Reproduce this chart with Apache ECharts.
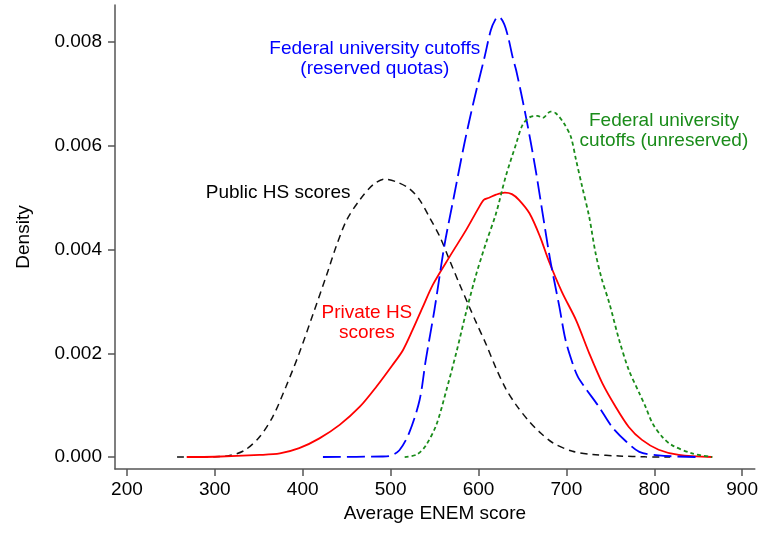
<!DOCTYPE html>
<html>
<head>
<meta charset="utf-8">
<script src="https://cdn.jsdelivr.net/npm/echarts@6/dist/echarts.min.js"></script>
<style>
  html, body { margin: 0; padding: 0; background: #fff; }
  #chart { width: 761px; height: 535px; }
</style>
</head>
<body>
<div id="chart"></div>
<script>
// tick labels
const xTicks = [200, 300, 400, 500, 600, 700, 800, 900];
const yTicks = [0, 0.002, 0.004, 0.006, 0.008];

// Public HS scores (black, dashed)
const publicX = [257, 300, 317, 334, 351, 366, 381, 396, 412, 427, 438, 450, 465, 480, 493, 506, 521, 533, 544, 556, 567, 578, 590, 597, 609, 620, 631, 643, 658, 669, 684, 707, 730, 760, 790, 818];
const publicY = [0, 0.000005, 0.00003, 0.00013, 0.00039, 0.00078, 0.00136, 0.00200, 0.00277, 0.00350, 0.00406, 0.00457, 0.00496, 0.00525, 0.00536, 0.00531, 0.00518, 0.00496, 0.00463, 0.00425, 0.00380, 0.00335, 0.00288, 0.00261, 0.00216, 0.00171, 0.00132, 0.00100, 0.00068, 0.00049, 0.00028, 0.00011, 0.00005, 0.00002, 0.000003, 0];

// Private HS scores (red, solid)
const privateX = [268, 300, 351, 374, 396, 419, 442, 465, 484, 502, 514, 525, 536, 548, 567, 586, 600, 606, 612, 620, 630, 638, 646, 658, 670, 680, 695, 711, 726, 741, 756, 771, 786, 805, 828, 866];
const privateY = [0, 0.000005, 0.00004, 0.00007, 0.00017, 0.00036, 0.00062, 0.00097, 0.00136, 0.00177, 0.00206, 0.00245, 0.00287, 0.00332, 0.00386, 0.00438, 0.00480, 0.00496, 0.00500, 0.00506, 0.00510, 0.00507, 0.00496, 0.00470, 0.00425, 0.00378, 0.00318, 0.00264, 0.00200, 0.00142, 0.00097, 0.00058, 0.00033, 0.00014, 0.00004, 0];

// Federal university cutoffs, reserved quotas (blue, long dash)
const reservedX = [423, 490, 499, 510, 521, 533, 540, 550, 561, 572, 584, 595, 607, 614, 619, 623, 629, 634, 639, 643, 654, 665, 681, 692, 699, 707, 713, 722, 737, 752, 768, 783, 805, 847];
const reservedY = [0, 0.00001, 0.00002, 0.00013, 0.00046, 0.00110, 0.00187, 0.00285, 0.00406, 0.00502, 0.00605, 0.00689, 0.00772, 0.00823, 0.00843, 0.00849, 0.00836, 0.00808, 0.00770, 0.00745, 0.00656, 0.00554, 0.00386, 0.00290, 0.00226, 0.00181, 0.00155, 0.00132, 0.00097, 0.00058, 0.00030, 0.00010, 0.00003, 0];

// Federal university cutoffs, unreserved (green, dotted)
const unreservedX = [516, 530, 540, 552, 563, 575, 586, 597, 608, 620, 631, 643, 650, 658, 667, 673, 682, 688, 697, 705, 711, 718, 726, 733, 740, 749, 760, 771, 783, 790, 798, 809, 820, 843, 866];
const unreservedY = [0, 0.00005, 0.00022, 0.00062, 0.00126, 0.00203, 0.00280, 0.00350, 0.00410, 0.00470, 0.00541, 0.00605, 0.00640, 0.00655, 0.00658, 0.00654, 0.00666, 0.00663, 0.00644, 0.00618, 0.00573, 0.00521, 0.00463, 0.00395, 0.00345, 0.00296, 0.00226, 0.00168, 0.00123, 0.00097, 0.00065, 0.00039, 0.00023, 0.00007, 0];

// annotation texts, anchored in data coordinates
const notes = [
    { text: 'Federal university cutoffs\n(reserved quotas)', x: 482, y: 0.00768, color: '#0000ff' },
    { text: 'Federal university\ncutoffs (unreserved)', x: 811, y: 0.00629, color: '#1a8c1a' },
    { text: 'Public HS scores', x: 372, y: 0.00509, color: '#000000' },
    { text: 'Private HS\nscores', x: 473, y: 0.00258, color: '#ff0000' }
];

function pairs(xs, ys) {
    return xs.map((x, i) => [x, ys[i]]);
}

const font = 'Liberation Sans, Arial, sans-serif';
const axisColor = '#555555';

const myChart = echarts.init(document.getElementById('chart'));

function makeLine(name, xs, ys, color, type, width) {
    return {
        name: name,
        type: 'line',
        data: pairs(xs, ys),
        showSymbol: false,
        smooth: 0.3,
        animation: false,
        lineStyle: { color: color, width: width, type: type }
    };
}

const option = {
    animation: false,
    grid: { left: 115, right: 5, top: 5, bottom: 66 },
    xAxis: {
        type: 'value',
        min: 186.4,
        max: 914.4,
        name: 'Average ENEM score',
        nameLocation: 'middle',
        nameGap: 33,
        nameTextStyle: { fontFamily: font, fontSize: 19, color: '#000' },
        splitLine: { show: false },
        axisLine: { show: true, onZero: false, lineStyle: { color: axisColor, width: 1.5 } },
        axisTick: { show: true, length: 7, lineStyle: { color: axisColor, width: 1.5 }, customValues: xTicks },
        axisLabel: { fontFamily: font, fontSize: 19, color: '#000', margin: 11, customValues: xTicks }
    },
    yAxis: {
        type: 'value',
        min: -0.000231,
        max: 0.008717,
        name: 'Density',
        nameLocation: 'middle',
        nameGap: 82,
        nameTextStyle: { fontFamily: font, fontSize: 19, color: '#000' },
        splitLine: { show: false },
        axisLine: { show: true, onZero: false, lineStyle: { color: axisColor, width: 1.5 } },
        axisTick: { show: true, length: 7, lineStyle: { color: axisColor, width: 1.5 }, customValues: yTicks },
        axisLabel: {
            fontFamily: font, fontSize: 19, color: '#000', margin: 13,
            customValues: yTicks,
            formatter: v => v.toFixed(3)
        }
    },
    series: [
        makeLine('Public HS scores', publicX, publicY, '#111111', [7, 5], 1.5),
        makeLine('Private HS scores', privateX, privateY, '#ff0000', 'solid', 1.8),
        makeLine('Reserved quotas', reservedX, reservedY, '#0000ff', [18, 6], 1.8),
        makeLine('Unreserved', unreservedX, unreservedY, '#1a8c1a', [4, 3], 1.8)
    ]
};

myChart.setOption(option);

function placeNotes() {
    const elements = notes.map(n => {
        const p = myChart.convertToPixel({ gridIndex: 0 }, [n.x, n.y]);
        return {
            type: 'text',
            x: p[0],
            y: p[1],
            silent: true,
            style: {
                text: n.text,
                fill: n.color,
                font: '19px ' + font,
                align: 'center',
                verticalAlign: 'middle',
                lineHeight: 20
            }
        };
    });
    myChart.setOption({ graphic: elements });
}
placeNotes();

window.addEventListener('resize', function() {
    myChart.resize();
    placeNotes();
});
</script>
</body>
</html>
